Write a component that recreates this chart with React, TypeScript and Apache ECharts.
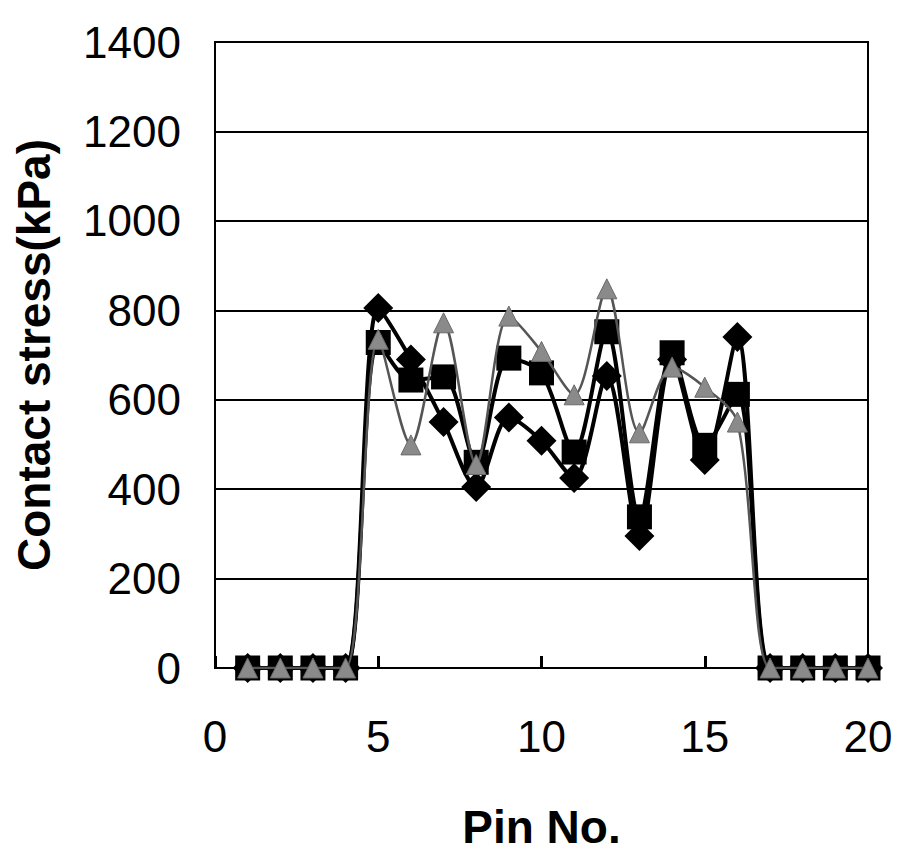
import React, { useEffect, useRef } from "react";
import * as echarts from "echarts";

const pins = [1, 2, 3, 4, 5, 6, 7, 8, 9, 10, 11, 12, 13, 14, 15, 16, 17, 18, 19, 20];
const diamondSeries = [0, 0, 0, 0, 805, 690, 550, 405, 560, 508, 425, 653, 295, 690, 465, 740, 0, 0, 0, 0];
const squareSeries = [0, 0, 0, 0, 728, 644, 651, 460, 693, 660, 483, 752, 338, 705, 498, 612, 0, 0, 0, 0];
const triangleSeries = [0, 0, 0, 0, 735, 499, 772, 455, 787, 708, 611, 848, 526, 673, 628, 550, 0, 0, 0, 0];

const FONT = "'Liberation Sans', Arial, Helvetica, sans-serif";

function pairs(vals: number[]) {
  return pins.map((p, i) => [p, vals[i]]);
}

export default function App() {
  const ref = useRef<HTMLDivElement>(null);
  useEffect(() => {
    if (!ref.current) return;
    const chart = echarts.init(ref.current, undefined, { renderer: "svg" });
    chart.setOption({
      animation: false,
      backgroundColor: "#fff",
      grid: {
        left: 215,
        right: 34,
        top: 42,
        bottom: 184,
        show: true,
        borderColor: "#000",
        borderWidth: 2,
        containLabel: false,
        outerBoundsMode: "none",
      },
      xAxis: {
        type: "value",
        min: 0,
        max: 20,
        interval: 5,
        name: "Pin No.",
        nameLocation: "middle",
        nameGap: 136,
        nameTextStyle: { fontFamily: FONT, fontSize: 46, fontWeight: "bold", color: "#000" },
        axisLine: { show: true, lineStyle: { color: "#000", width: 2 } },
        axisTick: { show: true, inside: true, length: 12, lineStyle: { color: "#000", width: 3 } },
        axisLabel: { fontFamily: FONT, fontSize: 44, color: "#000", margin: 46, formatter: (v: number) => String(v) },
        splitLine: { show: false },
      },
      yAxis: {
        type: "value",
        min: 0,
        max: 1400,
        interval: 200,
        name: "Contact stress(kPa)",
        nameLocation: "middle",
        nameGap: 158,
        nameRotate: 90,
        nameTextStyle: { fontFamily: FONT, fontSize: 46, fontWeight: "bold", color: "#000" },
        axisLine: { show: true, lineStyle: { color: "#000", width: 2 } },
        axisTick: { show: false },
        axisLabel: { fontFamily: FONT, fontSize: 44, color: "#000", margin: 34, formatter: (v: number) => String(v) },
        splitLine: { show: true, lineStyle: { color: "#000", width: 2 } },
      },
      series: [
        {
          type: "line",
          data: pairs(diamondSeries),
          smooth: 0.3,
          symbol: "diamond",
          symbolSize: [30, 30],
          lineStyle: { color: "#000", width: 4 },
          itemStyle: { color: "#000" },
          z: 2,
        },
        {
          type: "line",
          data: pairs(squareSeries),
          smooth: 0.3,
          symbol: "rect",
          symbolSize: [25, 25],
          lineStyle: { color: "#000", width: 4 },
          itemStyle: { color: "#000" },
          z: 3,
        },
        {
          type: "line",
          data: pairs(triangleSeries),
          smooth: 0.3,
          symbol: "triangle",
          symbolSize: [20, 20],
          lineStyle: { color: "#555", width: 2.5 },
          itemStyle: { color: "#8a8a8a", borderColor: "#6a6a6a", borderWidth: 1 },
          z: 4,
        },
      ],
    });
    return () => chart.dispose();
  }, []);
  return <div ref={ref} style={{ width: 902, height: 852, position: "absolute", left: 0, top: 0 }} />;
}
